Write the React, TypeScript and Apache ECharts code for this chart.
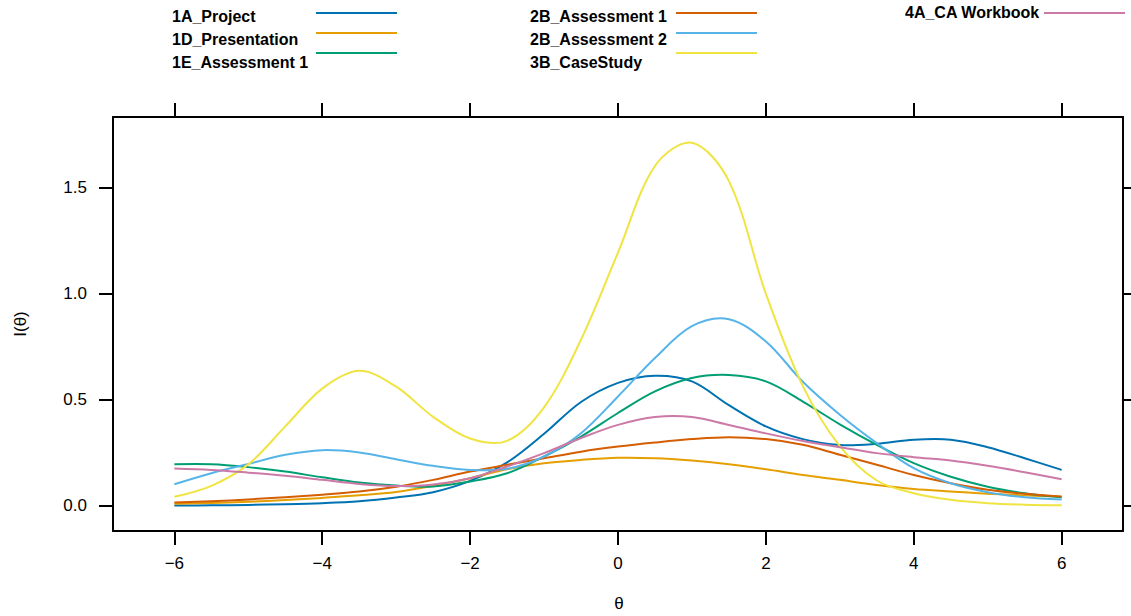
import React, { useEffect, useRef } from "react";
import * as echarts from "echarts";

const theta = [-6, -5.5, -5, -4.5, -4, -3.5, -3, -2.5, -2, -1.5, -1, -0.5, 0, 0.5, 1, 1.5, 2, 2.5, 3, 3.5, 4, 4.5, 5, 5.5, 6];

const project1A = [0.002, 0.003, 0.005, 0.008, 0.013, 0.022, 0.040, 0.065, 0.118, 0.205, 0.340, 0.490, 0.580, 0.614, 0.587, 0.475, 0.375, 0.315, 0.287, 0.293, 0.312, 0.312, 0.277, 0.225, 0.170];
const presentation1D = [0.010, 0.014, 0.020, 0.028, 0.038, 0.050, 0.066, 0.095, 0.131, 0.173, 0.201, 0.217, 0.227, 0.225, 0.214, 0.197, 0.173, 0.146, 0.123, 0.099, 0.080, 0.068, 0.057, 0.050, 0.044];
const assessment1E = [0.197, 0.197, 0.183, 0.162, 0.135, 0.110, 0.096, 0.092, 0.115, 0.154, 0.233, 0.327, 0.438, 0.540, 0.603, 0.617, 0.587, 0.492, 0.385, 0.288, 0.202, 0.138, 0.091, 0.060, 0.041];
const assessment2B1 = [0.016, 0.022, 0.031, 0.041, 0.053, 0.068, 0.091, 0.123, 0.162, 0.194, 0.225, 0.256, 0.280, 0.299, 0.315, 0.324, 0.315, 0.288, 0.241, 0.194, 0.146, 0.107, 0.076, 0.057, 0.044];
const assessment2B2 = [0.102, 0.154, 0.198, 0.241, 0.263, 0.252, 0.220, 0.189, 0.170, 0.175, 0.233, 0.343, 0.516, 0.697, 0.847, 0.880, 0.775, 0.585, 0.430, 0.296, 0.178, 0.107, 0.065, 0.041, 0.030];
const caseStudy3B = [0.043, 0.095, 0.196, 0.375, 0.553, 0.637, 0.562, 0.420, 0.318, 0.307, 0.465, 0.784, 1.194, 1.602, 1.712, 1.531, 1.000, 0.565, 0.282, 0.120, 0.060, 0.029, 0.013, 0.006, 0.003];
const workbook4A = [0.177, 0.170, 0.157, 0.142, 0.123, 0.104, 0.094, 0.101, 0.131, 0.186, 0.249, 0.320, 0.382, 0.419, 0.419, 0.382, 0.342, 0.306, 0.277, 0.249, 0.230, 0.214, 0.189, 0.159, 0.126];

const xTicks = [-6, -4, -2, 0, 2, 4, 6];
const yTicks = [0, 0.5, 1.0, 1.5];

const seriesNames = ["1A_Project", "1D_Presentation", "1E_Assessment 1", "2B_Assessment 1", "2B_Assessment 2", "3B_CaseStudy", "4A_CA Workbook"];
const seriesData = [project1A, presentation1D, assessment1E, assessment2B1, assessment2B2, caseStudy3B, workbook4A];
const seriesColors = ["#0072B2", "#E69F00", "#009E73", "#D55E00", "#56B4E9", "#F0E442", "#CC79A7"];

const FONT = "Liberation Sans, Arial, sans-serif";

export default function App() {
  const ref = useRef<HTMLDivElement>(null);
  useEffect(() => {
    if (!ref.current) return;
    const chart = echarts.init(ref.current, null, { renderer: "svg" });

    const axisLine = { show: true, onZero: false, lineStyle: { color: "#000", width: 2 } };
    const tick = (vals: number[]) => ({ show: true, length: 14, customValues: vals, lineStyle: { color: "#000", width: 2 } });
    const minus = (v: number) => (v < 0 ? "\u2212" + Math.abs(v) : String(v));

    const legendPos = [
      { tx: 172, ty: 17, lx: 316, ly: 13 },
      { tx: 172, ty: 40, lx: 316, ly: 33 },
      { tx: 172, ty: 63, lx: 316, ly: 53 },
      { tx: 530, ty: 17, lx: 676, ly: 13 },
      { tx: 530, ty: 40, lx: 676, ly: 33 },
      { tx: 530, ty: 63, lx: 676, ly: 53 },
      { tx: 905, ty: 13, lx: 1044, ly: 13 },
    ];
    const legendGraphics: any[] = [];
    seriesNames.forEach((name, i) => {
      const p = legendPos[i];
      legendGraphics.push({
        type: "text",
        left: p.tx,
        top: p.ty - 9,
        style: { text: name, font: `bold 16px ${FONT}`, fill: "#000" },
      });
      legendGraphics.push({
        type: "line",
        shape: { x1: p.lx, y1: p.ly, x2: p.lx + 81, y2: p.ly },
        style: { stroke: seriesColors[i], lineWidth: 2 },
      });
    });

    chart.setOption({
      animation: false,
      backgroundColor: "#fff",
      grid: { left: 113, right: 8, top: 117, bottom: 85, containLabel: false },
      xAxis: [
        {
          type: "value",
          position: "bottom",
          min: -6.83,
          max: 6.83,
          axisLine,
          axisTick: tick(xTicks),
          splitLine: { show: false },
          axisLabel: { customValues: xTicks, formatter: minus, margin: 24, fontSize: 17, fontFamily: FONT, color: "#000" },
        },
        {
          type: "value",
          position: "top",
          min: -6.83,
          max: 6.83,
          axisLine,
          axisTick: tick(xTicks),
          splitLine: { show: false },
          axisLabel: { show: false },
        },
      ],
      yAxis: [
        {
          type: "value",
          position: "left",
          min: -0.118,
          max: 1.833,
          axisLine,
          axisTick: tick(yTicks),
          splitLine: { show: false },
          axisLabel: { customValues: yTicks, formatter: (v: number) => v.toFixed(1), margin: 26, fontSize: 17, fontFamily: FONT, color: "#000" },
        },
        {
          type: "value",
          position: "right",
          min: -0.118,
          max: 1.833,
          axisLine,
          axisTick: tick(yTicks),
          splitLine: { show: false },
          axisLabel: { show: false },
        },
      ],
      series: seriesNames.map((name, i) => ({
        name,
        type: "custom",
        coordinateSystem: "cartesian2d",
        xAxisIndex: 0,
        yAxisIndex: 0,
        data: theta.map((t, j) => [t, seriesData[i][j]]),
        encode: { x: 0, y: 1 },
        renderItem: (params: any, api: any) => {
          if (params.dataIndex !== 0) return null;
          const pts = theta.map((t, j) => api.coord([t, seriesData[i][j]]));
          return {
            type: "polyline",
            shape: { points: pts, smooth: 0.34 },
            style: { stroke: seriesColors[i], lineWidth: 2, fill: "none" },
          };
        },
      })),
      graphic: [
        ...legendGraphics,
        {
          type: "text",
          x: 20,
          y: 324,
          rotation: Math.PI / 2,
          style: { text: "I(\u03b8)", font: `17px ${FONT}`, fill: "#000", align: "center", verticalAlign: "middle" },
        },
        {
          type: "text",
          x: 619,
          y: 603,
          style: { text: "\u03b8", font: `17px ${FONT}`, fill: "#000", align: "center", verticalAlign: "middle" },
        },
      ],
    });
    return () => chart.dispose();
  }, []);
  return <div ref={ref} style={{ position: "absolute", left: 0, top: 0, width: 1131, height: 616 }} />;
}
